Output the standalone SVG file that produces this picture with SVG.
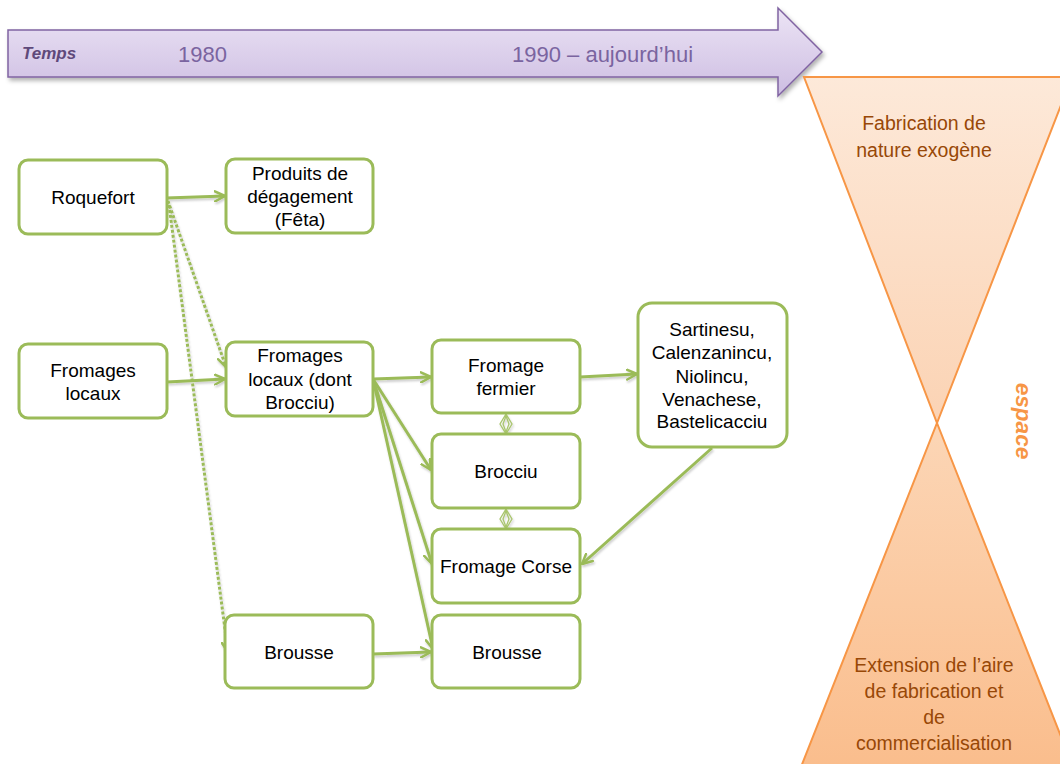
<svg xmlns="http://www.w3.org/2000/svg" width="1060" height="764" viewBox="0 0 1060 764">
<defs>
<linearGradient id="gArrow" x1="0" y1="0" x2="0" y2="1"><stop offset="0" stop-color="#ece4f5"/><stop offset="1" stop-color="#cdbde2"/></linearGradient>
<linearGradient id="gTop" x1="0" y1="0" x2="0" y2="1"><stop offset="0" stop-color="#fde9d9"/><stop offset="1" stop-color="#fbd3b4"/></linearGradient>
<linearGradient id="gBot" x1="0" y1="0" x2="0" y2="1"><stop offset="0" stop-color="#fcd6b6"/><stop offset="1" stop-color="#fabd8c"/></linearGradient>
<filter id="sh" x="-5%" y="-20%" width="110%" height="150%"><feDropShadow dx="2" dy="3" stdDeviation="2" flood-color="#000" flood-opacity="0.3"/></filter>
<filter id="lsh" x="-20%" y="-20%" width="140%" height="140%"><feDropShadow dx="1" dy="2" stdDeviation="1.2" flood-color="#000" flood-opacity="0.2"/></filter>
<marker id="ah" viewBox="0 0 12 12" refX="11" refY="6" markerWidth="12" markerHeight="12" markerUnits="userSpaceOnUse" orient="auto"><path d="M1,1 L11,6 L1,11" fill="none" stroke="#9bbb59" stroke-width="2.5" stroke-linecap="round" stroke-linejoin="round"/></marker>
</defs>
<style>
.node rect{fill:#fff;stroke:#9bbb59;stroke-width:3}
.node text{font-family:"Liberation Sans",Arial,sans-serif;font-size:19px;fill:#000;text-anchor:middle}
.c{fill:none;stroke:#9bbb59;stroke-width:3;marker-end:url(#ah)}
.d{stroke-dasharray:3 2}
.dia{fill:none;stroke:#a9c56e;stroke-width:1.3}
.tl{font-family:"Liberation Sans",Arial,sans-serif;fill:#7a64a0;font-size:22px}
.hg{font-family:"Liberation Sans",Arial,sans-serif;fill:#984807;font-size:19.5px;text-anchor:middle}
</style>

<g id="timeline">
<path d="M8,30 L778,30 L778,8 L822,52 L778,96 L778,77 L8,77 Z" fill="url(#gArrow)" stroke="#8064a2" stroke-width="1.5" filter="url(#sh)"/>
<text x="22" y="59" font-family="Liberation Sans,Arial,sans-serif" font-size="17" font-weight="bold" font-style="italic" fill="#5f497a">Temps</text>
<text class="tl" x="178" y="62">1980</text>
<text class="tl" x="512" y="62">1990 – aujourd’hui</text>
</g>

<g id="hourglass">
<path d="M804,77 L1072,77 L937,423 Z" fill="url(#gTop)" stroke="#f79646" stroke-width="2"/>
<path d="M937,423 L1075,772 L799,772 Z" fill="url(#gBot)" stroke="#f79646" stroke-width="2"/>
<text class="hg" x="924" y="130">Fabrication de</text>
<text class="hg" x="924" y="157">nature exogène</text>
<text class="hg" x="934" y="672">Extension de l’aire</text>
<text class="hg" x="934" y="698">de fabrication et</text>
<text class="hg" x="934" y="724">de</text>
<text class="hg" x="934" y="750">commercialisation</text>
<text transform="translate(1016,421) rotate(90)" text-anchor="middle" font-family="Liberation Sans,Arial,sans-serif" font-size="22.5" font-weight="bold" font-style="italic" fill="#f79646">espace</text>
</g>

<g id="connectors" filter="url(#lsh)">
<path class="c" d="M166,198 L225,196"/>
<path class="c d" d="M168,201 L226,367"/>
<path class="c d" d="M169,205 L228,652"/>
<path class="c" d="M167,382 L225,379"/>
<path class="c" d="M373,379 L431,377"/>
<path class="c" d="M373,379 L431,470"/>
<path class="c" d="M373,379 L432,564"/>
<path class="c" d="M373,379 L433,649"/>
<path class="c" d="M580,377 L637,374"/>
<path class="c" d="M712,448 L582,564"/>
<path class="c" d="M373,654 L431,652"/>
<path class="dia" d="M506,414 L512,424 L506,434 L500,424 Z M506,416 L509,424 L506,432 L503,424 Z"/>
<path class="dia" d="M506,509 L512,519 L506,529 L500,519 Z M506,511 L509,519 L506,527 L503,519 Z"/>
</g>

<g id="roquefort" class="node"><rect x="19" y="160" width="148" height="74" rx="9"/><text x="93" y="204">Roquefort</text></g>
<g id="produits" class="node"><rect x="226" y="159" width="147" height="74" rx="9"/><text x="300" y="180">Produits de</text><text x="300" y="203">dégagement</text><text x="300" y="226">(Fêta)</text></g>
<g id="fromages-locaux" class="node"><rect x="19" y="344" width="148" height="74" rx="9"/><text x="93" y="377">Fromages</text><text x="93" y="400">locaux</text></g>
<g id="fromages-locaux-brocciu" class="node"><rect x="226" y="342" width="147" height="74" rx="9"/><text x="300" y="362">Fromages</text><text x="300" y="386">locaux (dont</text><text x="300" y="409">Brocciu)</text></g>
<g id="fromage-fermier" class="node"><rect x="432" y="340" width="148" height="73" rx="9"/><text x="506" y="372">Fromage</text><text x="506" y="395">fermier</text></g>
<g id="brocciu" class="node"><rect x="432" y="434" width="148" height="74" rx="9"/><text x="506" y="478">Brocciu</text></g>
<g id="fromage-corse" class="node"><rect x="432" y="529" width="148" height="74" rx="9"/><text x="506" y="573">Fromage Corse</text></g>
<g id="sartinesu" class="node"><rect x="638" y="303" width="149" height="144" rx="14"/><text x="712" y="336">Sartinesu,</text><text x="712" y="359">Calenzanincu,</text><text x="712" y="383">Niolincu,</text><text x="712" y="406">Venachese,</text><text x="712" y="428">Bastelicacciu</text></g>
<g id="brousse-1" class="node"><rect x="225" y="615" width="148" height="73" rx="9"/><text x="299" y="659">Brousse</text></g>
<g id="brousse-2" class="node"><rect x="432" y="615" width="148" height="73" rx="9"/><text x="507" y="659">Brousse</text></g>
</svg>
